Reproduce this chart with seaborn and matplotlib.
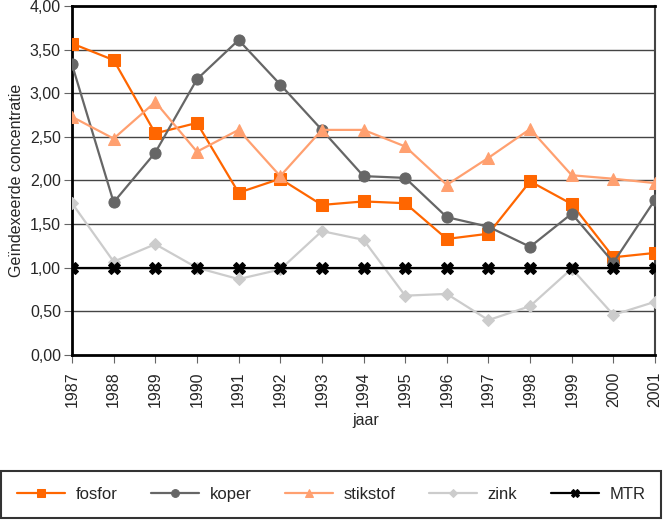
import numpy as np
import pandas as pd
import matplotlib.pyplot as plt
import seaborn as sns
from matplotlib.ticker import FuncFormatter

sns.set_style('white')
plt.rcParams['font.family'] = ['Liberation Sans', 'DejaVu Sans']

jaren = list(range(1987, 2002))
fosfor = [3.57, 3.38, 2.54, 2.66, 1.86, 2.02, 1.72, 1.76, 1.74, 1.33, 1.39, 1.99, 1.73, 1.12, 1.17]
koper = [3.33, 1.75, 2.32, 3.16, 3.61, 3.10, 2.58, 2.05, 2.03, 1.58, 1.47, 1.24, 1.62, 1.06, 1.78]
stikstof = [2.73, 2.48, 2.90, 2.33, 2.58, 2.05, 2.58, 2.58, 2.39, 1.95, 2.26, 2.59, 2.06, 2.02, 1.97]
zink = [1.74, 1.07, 1.27, 1.00, 0.87, 0.98, 1.42, 1.32, 0.68, 0.70, 0.40, 0.56, 0.99, 0.46, 0.61]
mtr = [1.00] * 15

reeksen = {'fosfor': fosfor, 'koper': koper, 'stikstof': stikstof, 'zink': zink, 'MTR': mtr}
kleuren = {'fosfor': '#FF6600', 'koper': '#666666', 'stikstof': '#FFA070',
           'zink': '#CCCCCC', 'MTR': '#000000'}
markers = {'fosfor': 's', 'koper': 'o', 'stikstof': '^', 'zink': 'D', 'MTR': 'X'}
msize = {'fosfor': 8.5, 'koper': 8, 'stikstof': 8.5, 'zink': 6, 'MTR': 8}

fig = plt.figure(figsize=(6.63, 5.2), dpi=100)
ax = fig.add_axes([0.1086, 0.3173, 0.8794, 0.6712])

ax.set_axisbelow(True)
for y in np.arange(0.5, 4.0, 0.5):
    ax.axhline(y, color='#444444', lw=1, zorder=0)

for naam, waarden in reeksen.items():
    sns.lineplot(x=jaren, y=waarden, ax=ax, color=kleuren[naam], marker=markers[naam],
                 markersize=msize[naam], markeredgecolor=kleuren[naam], lw=1.6,
                 label=naam, legend=False, zorder=3 if naam != 'MTR' else 4)

ax.set_xlim(1987, 2001)
ax.set_ylim(0, 4)
ax.set_xticks(jaren)
ax.set_xticklabels([str(j) for j in jaren], rotation=90, fontsize=11.5)
ax.set_yticks(np.arange(0, 4.01, 0.5))
ax.yaxis.set_major_formatter(FuncFormatter(lambda v, p: f'{v:.2f}'.replace('.', ',')))
ax.tick_params(axis='y', labelsize=11.5, length=6, color='#666666', direction='out', left=True, pad=2)
ax.tick_params(axis='x', length=6, color='#666666', direction='out', bottom=True, pad=6)
ax.set_xlabel('jaar', fontsize=11.5)
ax.xaxis.set_label_coords(0.503, -0.165)
ax.set_ylabel('Geïndexeerde concentratie', fontsize=11.5)

ax.spines['left'].set_linewidth(2)
ax.spines['bottom'].set_linewidth(2)
ax.spines['top'].set_linewidth(2)
ax.spines['right'].set_color('#444444')
ax.spines['right'].set_linewidth(1.5)
for s in ['left', 'bottom', 'top']:
    ax.spines[s].set_color('black')

h, l = ax.get_legend_handles_labels()
leg = fig.legend(h, l, loc='lower left', bbox_to_anchor=(0.002, 0.004, 0.995, 0.088),
                 mode='expand', ncol=5, fontsize=12, frameon=True, fancybox=False,
                 handlelength=2.9, handletextpad=0.6, borderpad=0.95, borderaxespad=0,
                 markerscale=0.7)
leg.get_frame().set_edgecolor('black')
leg.get_frame().set_linewidth(1.5)

fig.savefig('out.png', dpi=100)
